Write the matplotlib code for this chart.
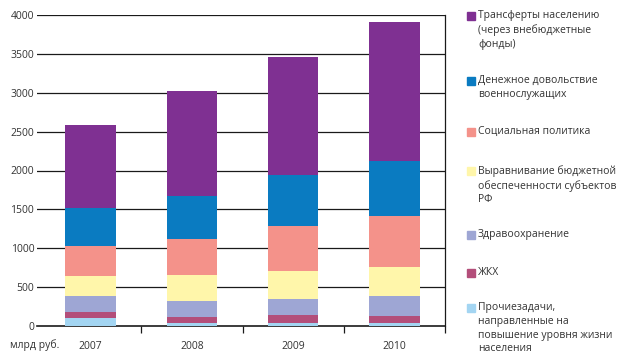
import numpy as np
import matplotlib.pyplot as plt
from matplotlib.patches import Rectangle

plt.rcParams['font.family'] = ['Open Sans', 'DejaVu Sans']

years = ['2007', '2008', '2009', '2010']
# segments from bottom to top, млрд руб.
other = [107, 34, 34, 34]
housing = [73, 86, 112, 99]
health = [206, 206, 206, 253]
equalization = [257, 330, 360, 373]
social = [386, 463, 578, 660]
military = [493, 557, 652, 703]
transfers = [1063, 1346, 1518, 1788]

series = [other, housing, health, equalization, social, military, transfers]
colors = ['#A3D5F2', '#B34E7A', '#9EA6D4', '#FFF6AA', '#F4928A', '#0A7BC1', '#7F3092']
labels = ['Прочиезадачи,\nнаправленные на\nповышение уровня жизни\nнаселения',
          'ЖКХ',
          'Здравоохранение',
          'Выравнивание бюджетной\nобеспеченности субъектов\nРФ',
          'Социальная политика',
          'Денежное довольствие\nвоеннослужащих',
          'Трансферты населению\n(через внебюджетные\nфонды)']
label_y = [308, 273, 235, 171, 132, 81, 16]  # pixel rows of legend entries

W, H = 623, 356
fig = plt.figure(figsize=(W / 100, H / 100), dpi=100)
ax = fig.add_axes([37 / W, 1 - 326 / H, (445 - 37) / W, (326 - 15) / H])

x = np.arange(len(years))
bottom = np.zeros(len(years))
for vals, c in zip(series, colors):
    ax.bar(x, vals, bottom=bottom, width=0.5, color=c, zorder=3)
    bottom += np.array(vals)

ax.set_xlim(-0.53, 3.5)
ax.set_ylim(0, 4000)
ax.set_yticks(range(0, 4001, 500))
for v in range(500, 4001, 500):
    ax.axhline(v, color='#1a1a1a', lw=0.9, zorder=1)
ax.tick_params(axis='y', length=0, labelsize=7.5, labelcolor='#333333', pad=2)
ax.set_xticks(x + 0.5, minor=False)
ax.set_xticklabels([])
ax.tick_params(axis='x', length=5, width=0.9, color='#1a1a1a', direction='out')
for i, yr in enumerate(years):
    ax.text(i, -190, yr, ha='center', va='top', fontsize=7.5, color='#333333')
fig.text(10 / W, 1 - 339 / H, 'млрд руб.', ha='left', va='top', fontsize=7.5,
         color='#333333')

for s in ['left', 'top']:
    ax.spines[s].set_visible(False)
ax.spines['right'].set_color('#1a1a1a')
ax.spines['right'].set_linewidth(0.9)
ax.spines['bottom'].set_color('#1a1a1a')
ax.spines['bottom'].set_linewidth(1.2)

for lab, c, py in zip(labels, colors, label_y):
    fig.patches.append(Rectangle((467 / W, 1 - (py + 4) / H), 8 / W, 8 / H,
                                 transform=fig.transFigure, color=c))
    fig.text(478 / W, 1 - (py - 6) / H, lab, ha='left', va='top', fontsize=7.5,
             color='#333333', linespacing=1.35)

fig.savefig('out.png', dpi=100)
